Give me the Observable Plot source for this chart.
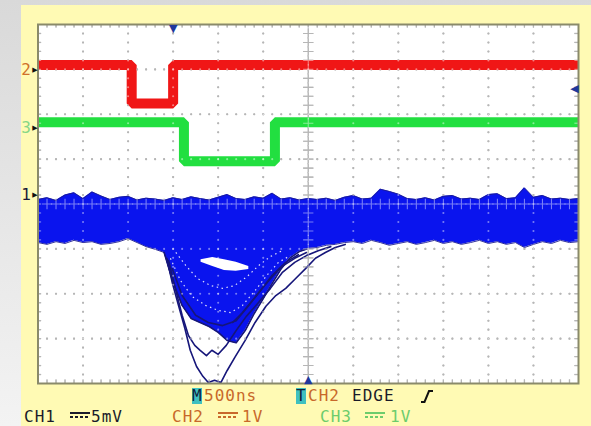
<!DOCTYPE html>
<html>
<head>
<meta charset="utf-8">
<script src="https://cdn.jsdelivr.net/npm/d3@7"></script>
<script src="https://cdn.jsdelivr.net/npm/@observablehq/plot@0.6"></script>
<style>
  html, body { margin: 0; padding: 0; }
  body { position: relative; width: 591px; height: 426px; overflow: hidden;
         background: linear-gradient(to bottom, #d9d9d9, #f3f3f3); }
  #panel { position: absolute; left: 21px; top: 5px; width: 570px; height: 421px; background: #fffab4; }
  #chart { position: absolute; left: 0; top: 0; }
  .s { position: absolute; font-family: "DejaVu Sans Mono", monospace; font-size: 16px;
       letter-spacing: 1px; line-height: 16px; white-space: pre; color: #1a1a2a; }
  .box { background: #3fc0c0; color: #10203a; letter-spacing: 0; }
  .or { color: #c8682a; }
  .gr { color: #6ccc6c; }
  .dc1 { position: absolute; width: 20px; height: 2px; }
  .dc2 { position: absolute; width: 20px; height: 2px; }
</style>
</head>
<body>
<div id="panel"></div>
<div id="chart"></div>
<script>
// ---- data (time in µs, level in screen divisions) ----
const redT   = [-3, -1.96, -1.96, -1.50, -1.50, 3];
const redV   = [3.1, 3.1, 2.24, 2.24, 3.1, 3.1];
const greenT = [-3, -1.38, -1.38, -0.37, -0.37, 3];
const greenV = [1.82, 1.82, 0.95, 0.95, 1.82, 1.82];

// CH1 noise band envelope
const bandT = [-3.0,-2.9,-2.8,-2.7,-2.6,-2.5,-2.4,-2.3,-2.2,-2.1,-2.0,-1.9,-1.8,-1.7,-1.6,-1.5,-1.4,-1.3,-1.2,-1.1,
               -1.0,-0.9,-0.8,-0.7,-0.6,-0.5,-0.4,-0.3,-0.2,-0.1,0.0,0.1,0.2,0.3,0.4,0.5,0.6,0.7,0.8,0.9,
               1.0,1.1,1.2,1.3,1.4,1.5,1.6,1.7,1.8,1.9,2.0,2.1,2.2,2.3,2.4,2.5,2.6,2.7,2.8,2.9,3.0];
const bandTop = [0.10,0.14,0.08,0.20,0.25,0.12,0.27,0.18,0.10,0.15,0.17,0.09,0.13,0.11,0.08,0.14,0.10,0.16,0.12,0.09,
                 0.15,0.21,0.12,0.10,0.16,0.13,0.24,0.11,0.14,0.09,0.12,0.10,0.13,0.08,0.15,0.19,0.11,0.13,0.33,0.28,
                 0.22,0.12,0.10,0.14,0.09,0.17,0.19,0.11,0.13,0.10,0.21,0.23,0.12,0.14,0.36,0.15,0.19,0.11,0.13,0.10,0.12];
const bandBottom = [-0.86,-0.90,-0.84,-0.88,-0.81,-0.86,-0.84,-0.90,-0.88,-0.84,-0.77,-0.86,-0.95,-1.01,-1.08,-1.75,-2.26,-2.55,-2.64,-2.73,
                    -2.86,-3.04,-3.09,-2.82,-2.44,-2.11,-1.77,-1.44,-1.20,-1.06,-0.99,-0.97,-0.92,-0.90,-0.86,-0.84,-0.88,-0.81,-0.86,-0.92,
                    -0.88,-0.84,-0.90,-0.86,-0.81,-0.88,-0.84,-0.90,-0.86,-0.81,-0.88,-0.84,-0.90,-0.86,-0.97,-0.90,-0.84,-0.88,-0.81,-0.86,-0.84];

// gap inside the dense part of the dip
const gapT = [-1.19,-1.06,-0.93,-0.80,-0.66];
const gapTop = [-1.24,-1.19,-1.24,-1.30,-1.39];
const gapBottom = [-1.30,-1.39,-1.48,-1.50,-1.46];

// individual deep sweeps (outlined)
const sweep1T = [-1.57,-1.51,-1.44,-1.37,-1.31,-1.24,-1.17,-1.11,-1.04,-0.97,-0.90,-0.81,-0.70,-0.59,-0.47,-0.36,-0.25,-0.14,-0.03,0.08,0.19,0.30,0.41];
const sweep1V = [-1.21,-1.75,-2.26,-2.77,-3.26,-3.62,-3.84,-3.98,-3.93,-3.98,-3.71,-3.40,-3.04,-2.64,-2.28,-2.04,-1.88,-1.66,-1.44,-1.21,-1.08,-0.97,-0.90];
const sweep2T = [-1.55,-1.47,-1.40,-1.33,-1.26,-1.20,-1.13,-1.07,-1.00,-0.91,-0.80,-0.69,-0.55,-0.42,-0.29,-0.15,-0.02,0.11,0.25];
const sweep2V = [-1.26,-1.93,-2.48,-2.93,-3.15,-3.26,-3.38,-3.26,-3.35,-3.15,-2.82,-2.51,-2.19,-1.88,-1.53,-1.30,-1.15,-1.04,-0.95];
const sweep3T = [-0.84,-0.73,-0.62,-0.51,-0.40,-0.29,-0.15,-0.02];
const sweep3V = [-2.64,-2.42,-2.15,-1.88,-1.62,-1.39,-1.21,-1.08];
const sweep4T = [-1.51,-1.40,-1.25,-1.11,-0.95,-0.80,-0.66,-0.53,-0.40,-0.25,-0.11];
const sweep4V = [-1.44,-2.04,-2.48,-2.64,-2.71,-2.60,-2.26,-1.93,-1.59,-1.30,-1.13];

// shallower sweeps inside the dense part (seen as light speckle)
const speckA_T = [-1.53,-1.42,-1.29,-1.14,-1.00,-0.86,-0.73,-0.59,-0.46,-0.33,-0.20];
const speckA_V = [-1.21,-1.70,-2.06,-2.26,-2.37,-2.42,-2.26,-1.93,-1.59,-1.30,-1.15];
const speckB_T = [-1.47,-1.36,-1.23,-1.08,-0.95,-0.82,-0.68,-0.55,-0.42,-0.29];
const speckB_V = [-1.08,-1.37,-1.66,-1.82,-1.88,-1.82,-1.62,-1.37,-1.17,-1.04];

// channel reference markers
const chLabels = ["2", "3", "1"];
const chLevels = [3.00, 1.70, 0.21];
const chColors = ["#d0702a", "#86d686", "#1a1a3a"];

// trigger markers
const trigT = -1.50, trigLevel = 2.57;

// graticule: 12 x 8 divisions, 500 ns/div
const gridT = [-3,-2.5,-2,-1.5,-1,-0.5,0,0.5,1,1.5,2,2.5,3];
const gridV = [-4,-3,-2,-1,0,1,2,3,4];

// ---- build ----
const zip = (a, b) => a.map((t, i) => ({t, v: b[i]}));
const red = zip(redT, redV);
const green = zip(greenT, greenV);
const band = bandT.map((t, i) => ({t, top: bandTop[i], bottom: bandBottom[i]}));
const gap = gapT.map((t, i) => ({t, top: gapTop[i], bottom: gapBottom[i]}));
const sweeps = [zip(sweep1T, sweep1V), zip(sweep2T, sweep2V), zip(sweep3T, sweep3V), zip(sweep4T, sweep4V)];
const specks = [zip(speckA_T, speckA_V), zip(speckB_T, speckB_V)];
const dip = band.filter(d => d.t >= -1.6 && d.t <= 0.0);

const minorT = d3.range(0, 61).map(i => -3 + i * 0.1);
const minorV = d3.range(0, 41).map(i => -4 + i * 0.2);
const innerT = minorT.slice(1, -1), innerV = minorV.slice(1, -1);
const dots = [];
for (const t of gridT) if (t !== -3 && t !== 0 && t !== 3) for (const v of innerV) dots.push({t, v});
for (const v of gridV) if (v !== -4 && v !== 0 && v !== 4) for (const t of innerT) dots.push({t, v});
const crosses = [];
for (const v of innerV) crosses.push({t: 0, v});
for (const t of innerT) if (Math.abs(t) > 1e-9) crosses.push({t, v: 0});

function grid(color, opacity) {
  return [
    Plot.dot(dots, {x: "t", y: "v", r: 1.05, fill: color, fillOpacity: opacity}),
    Plot.dot(crosses, {x: "t", y: "v", symbol: "plus", r: 3.4, stroke: color, strokeOpacity: opacity, strokeWidth: 1.1}),
    Plot.ruleX(innerT, {x: d => d, y1: 4, y2: 3.92, stroke: color, strokeOpacity: opacity, strokeWidth: 1.2}),
    Plot.ruleX(innerT, {x: d => d, y1: -4, y2: -3.92, stroke: color, strokeOpacity: opacity, strokeWidth: 1.2}),
    Plot.ruleY(innerV, {y: d => d, x1: -3, x2: -2.96, stroke: color, strokeOpacity: opacity, strokeWidth: 1.2}),
    Plot.ruleY(innerV, {y: d => d, x1: 3, x2: 2.96, stroke: color, strokeOpacity: opacity, strokeWidth: 1.2})
  ];
}

const navy = "#16167a";
const chart = Plot.plot({
  width: 591, height: 426,
  marginLeft: 37.5, marginRight: 13, marginTop: 24, marginBottom: 43,
  x: {domain: [-3, 3], axis: null},
  y: {domain: [-4, 4], axis: null},
  style: {background: "transparent", overflow: "visible"},
  marks: [
    Plot.frame({fill: "white", stroke: "none"}),
    ...grid("#7a7a7a", 1),
    Plot.line(red, {x: "t", y: "v", stroke: "#f01616", strokeWidth: 10, strokeLinejoin: "miter", strokeLinecap: "butt"}),
    Plot.line(green, {x: "t", y: "v", stroke: "#22df40", strokeWidth: 10, strokeLinejoin: "miter", strokeLinecap: "butt"}),
    Plot.areaY(band, {x: "t", y1: "bottom", y2: "top", fill: "#0a14ee"}),
    Plot.line(band, {x: "t", y: "top", stroke: "#1c1c90", strokeWidth: 0.9}),
    Plot.line(band, {x: "t", y: "bottom", stroke: "#1c1c90", strokeWidth: 0.9}),
    Plot.areaY(gap, {x: "t", y1: "bottom", y2: "top", fill: "white"}),
    ...specks.map(s => Plot.line(s, {x: "t", y: "v", stroke: "white", strokeOpacity: 0.85, strokeWidth: 1.2, strokeDasharray: "1.5,3.5", strokeLinecap: "butt"})),
    ...sweeps.map(s => Plot.line(s, {x: "t", y: "v", stroke: navy, strokeWidth: 1.6})),
    Plot.line(dip, {x: "t", y: "bottom", stroke: navy, strokeWidth: 1.6}),
    ...grid("white", 0.45),
    Plot.frame({stroke: "#8a8a6a", strokeWidth: 2}),
    // channel markers at left
    Plot.text(chLabels, {x: () => -3, y: (d, i) => chLevels[i], text: d => d, dx: -12, fill: (d, i) => chColors[i],
      fontSize: 16, fontFamily: "DejaVu Sans Mono"}),
    Plot.text(chLabels, {x: () => -3, y: (d, i) => chLevels[i], text: () => "▶", dx: -3, fill: "#111",
      fontSize: 7, fontFamily: "DejaVu Sans"}),
    // trigger markers
    Plot.text([trigT], {x: d => d, y: () => 4, text: () => "▼", dy: 4, fill: "#20389c", fontSize: 11, fontFamily: "DejaVu Sans"}),
    Plot.text([trigLevel], {x: () => 3, y: d => d, text: () => "◀", dx: -4, fill: "#20389c", fontSize: 11, fontFamily: "DejaVu Sans"}),
    Plot.text([0], {x: d => d, y: () => -4, text: () => "▲", dy: -4, fill: "#20389c", fontSize: 11, fontFamily: "DejaVu Sans"})
  ]
});
document.getElementById("chart").appendChild(chart);
</script>

<span class="s box" style="left:192px; top:388px;">M</span>
<span class="s or" style="left:204px; top:388px;">500ns</span>
<span class="s box" style="left:296px; top:388px;">T</span>
<span class="s or" style="left:308px; top:388px;">CH2</span>
<span class="s" style="left:352px; top:388px;">EDGE</span>
<svg style="position:absolute; left:421px; top:390px;" width="12" height="13"><polyline points="0,12 3.5,12 8,1 12,1" fill="none" stroke="#111" stroke-width="2"/></svg>

<span class="s" style="left:24px; top:409px;">CH1</span>
<div class="dc1" style="left:70px; top:412px; background:#1a1a2a;"></div>
<div class="dc2" style="left:70px; top:416px; background:repeating-linear-gradient(90deg,#1a1a2a 0 3px,transparent 3px 5px);"></div>
<span class="s" style="left:91px; top:409px;">5mV</span>

<span class="s or" style="left:172px; top:409px;">CH2</span>
<div class="dc1" style="left:218px; top:412px; background:#c8682a;"></div>
<div class="dc2" style="left:218px; top:416px; background:repeating-linear-gradient(90deg,#c8682a 0 3px,transparent 3px 5px);"></div>
<span class="s or" style="left:242px; top:409px;">1V</span>

<span class="s gr" style="left:320px; top:409px;">CH3</span>
<div class="dc1" style="left:365px; top:412px; background:#6ccc6c;"></div>
<div class="dc2" style="left:365px; top:416px; background:repeating-linear-gradient(90deg,#6ccc6c 0 3px,transparent 3px 5px);"></div>
<span class="s gr" style="left:390px; top:409px;">1V</span>
</body>
</html>
